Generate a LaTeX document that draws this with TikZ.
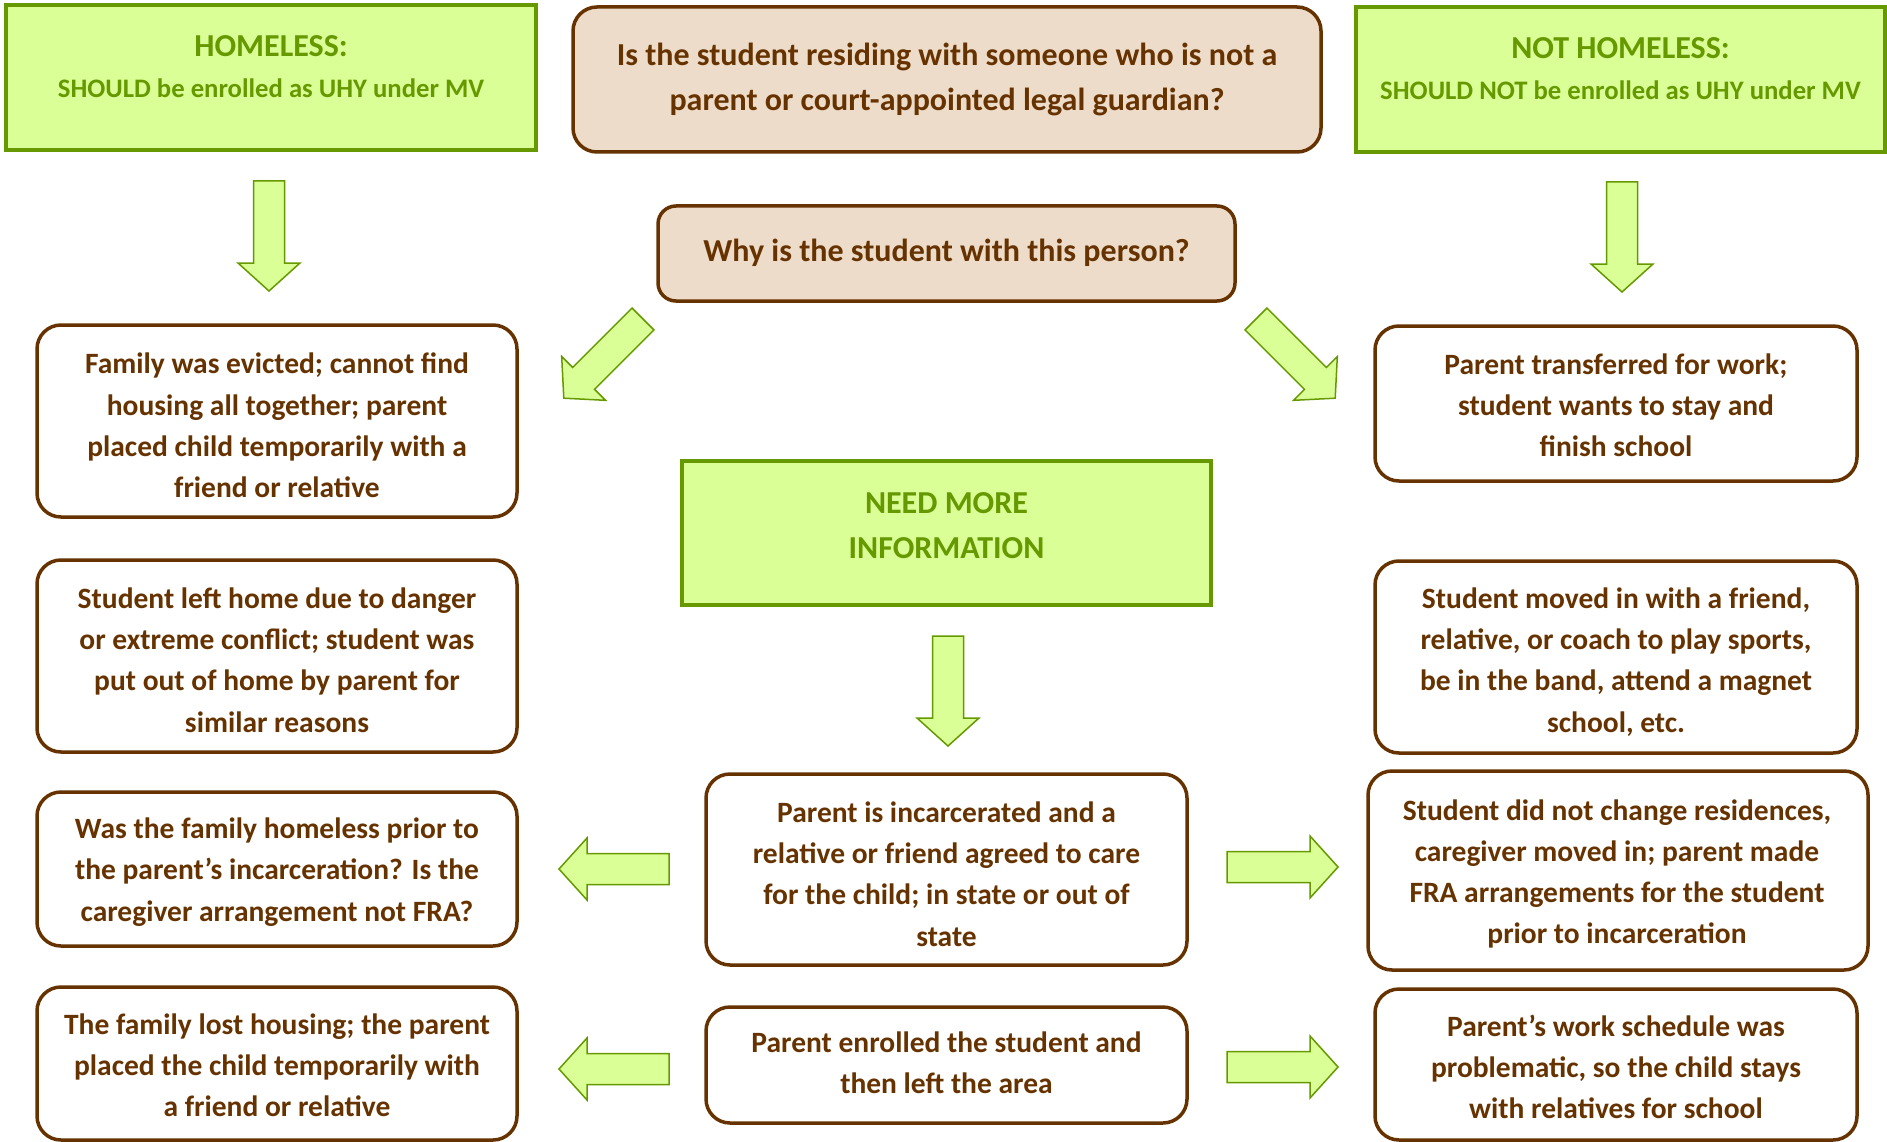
\documentclass[tikz,border=0pt]{standalone}
\usepackage{fontspec}
\setmainfont{Carlito}
\definecolor{gfill}{RGB}{218,255,150}
\definecolor{gdark}{RGB}{102,153,0}
\definecolor{brn}{RGB}{102,51,0}
\definecolor{beige}{RGB}{237,220,201}
\tikzset{
  greenbox/.style={draw=gdark, fill=gfill, line width=4pt, inner sep=0pt},
  qbox/.style={draw=brn, fill=beige, line width=3.5pt, rounded corners=24pt, inner sep=0pt},
  wbox/.style={draw=brn, fill=white, line width=3.5pt, rounded corners=24pt, inner sep=0pt},
  btxt/.style={text=brn, align=center, inner sep=0pt, font=\fontsize{29.5}{41.2}\selectfont\bfseries},
  qtxt/.style={text=brn, align=center, inner sep=0pt, font=\fontsize{32}{45}\selectfont\bfseries},
  gtxt/.style={text=gdark, align=center, inner sep=0pt, font=\fontsize{26.7}{41}\selectfont\bfseries},
  arrowshape/.style={draw=gdark, fill=gfill, line width=1.5pt, line join=miter}
}
\newcommand{\blockarr}[3]{%
  \draw[arrowshape, shift={(#1)}, rotate=#2] (0,-15.5) -- ({#3-28},-15.5) -- ({#3-28},-31) -- (#3,0) -- ({#3-28},31) -- ({#3-28},15.5) -- (0,15.5) -- cycle;}
\begin{document}
\begin{tikzpicture}[x=1pt,y=-1pt]
\useasboundingbox (0,0) rectangle (1887,1142);
% top row
\node[greenbox, minimum width=530pt, minimum height=145pt] (hom) at (271,77.5) {};
\node[gtxt] (homt) at (271,67) {{\fontsize{32}{41}\selectfont HOMELESS:}\\SHOULD be enrolled as UHY under MV};
\node[qbox, minimum width=748pt, minimum height=145pt] (q1) at (947,79.5) {};
\node[qtxt] (q1t) at (947,79) {Is the student residing with someone who is not a\\parent or court-appointed legal guardian?};
\node[greenbox, minimum width=529pt, minimum height=145pt] (nothom) at (1620.5,79.5) {};
\node[gtxt] (nothomt) at (1620.5,69) {{\fontsize{32}{41}\selectfont NOT HOMELESS:}\\SHOULD NOT be enrolled as UHY under MV};
% why box
\node[qbox, rounded corners=18pt, minimum width=577pt, minimum height=95pt] (why) at (946.5,253.5) {};
\node[qtxt] (whyt) at (946.5,252.5) {Why is the student with this person?};
% left column
\node[wbox, minimum width=480pt, minimum height=192pt] (l1) at (277,421) {};
\node[btxt] (l1t) at (277,425.5) {Family was evicted; cannot find\\housing all together; parent\\placed child temporarily with a\\friend or relative};
\node[wbox, minimum width=480pt, minimum height=192pt] (l2) at (277,656) {};
\node[btxt] (l2t) at (277,660) {Student left home due to danger\\or extreme conflict; student was\\put out of home by parent for\\similar reasons};
\node[wbox, minimum width=480pt, minimum height=154pt] (l3) at (277,869) {};
\node[btxt] (l3t) at (277,872) {Was the family homeless prior to\\the parent’s incarceration? Is the\\caregiver arrangement not FRA?};
\node[wbox, minimum width=480pt, minimum height=153pt] (l4) at (277,1063.5) {};
\node[btxt] (l4t) at (277,1065) {The family lost housing; the parent\\placed the child temporarily with\\a friend or relative};
% right column
\node[wbox, minimum width=482pt, minimum height=155pt] (r1) at (1616,403.5) {};
\node[btxt] (r1t) at (1616,405.5) {Parent transferred for work;\\student wants to stay and\\finish school};
\node[wbox, minimum width=482pt, minimum height=192pt] (r2) at (1616,657) {};
\node[btxt] (r2t) at (1616,662) {Student moved in with a friend,\\relative, or coach to play sports,\\be in the band, attend a magnet\\school, etc.};
\node[wbox, minimum width=500pt, minimum height=199pt] (r3) at (1618,870.5) {};
\node[btxt] (r3t) at (1617,874) {Student did not change residences,\\caregiver moved in; parent made\\FRA arrangements for the student\\prior to incarceration};
\node[wbox, minimum width=482pt, minimum height=151pt] (r4) at (1616,1064.5) {};
\node[btxt] (r4t) at (1616,1067) {Parent’s work schedule was\\problematic, so the child stays\\with relatives for school};
% center column
\node[greenbox, minimum width=529pt, minimum height=144pt] (nm) at (946.5,533) {};
\node[gtxt, font=\fontsize{32}{45}\selectfont\bfseries] (nmt) at (946.5,526) {NEED MORE\\INFORMATION};
\node[wbox, minimum width=481pt, minimum height=191pt] (c1) at (946.5,869.5) {};
\node[btxt] (c1t) at (946.5,874) {Parent is incarcerated and a\\relative or friend agreed to care\\for the child; in state or out of\\state};
\node[wbox, minimum width=481pt, minimum height=116pt] (c2) at (946.5,1065) {};
\node[btxt] (c2t) at (946.5,1063) {Parent enrolled the student and\\then left the area};
% arrows
\coordinate (ahom) at (269,181);
\coordinate (anot) at (1622,182);
\coordinate (anm) at (948,636);
\coordinate (adl) at (643,319);
\coordinate (adr) at (1256,319);
\coordinate (al1) at (669,869);
\coordinate (al2) at (669,1069);
\coordinate (ar1) at (1227,867);
\coordinate (ar2) at (1227,1067);
\blockarr{ahom}{-90}{110}
\blockarr{anot}{-90}{110}
\blockarr{anm}{-90}{110}
\blockarr{adl}{-135}{112}
\blockarr{adr}{-45}{112}
\blockarr{al1}{180}{110}
\blockarr{al2}{180}{110}
\blockarr{ar1}{0}{111}
\blockarr{ar2}{0}{111}
\end{tikzpicture}
\end{document}
